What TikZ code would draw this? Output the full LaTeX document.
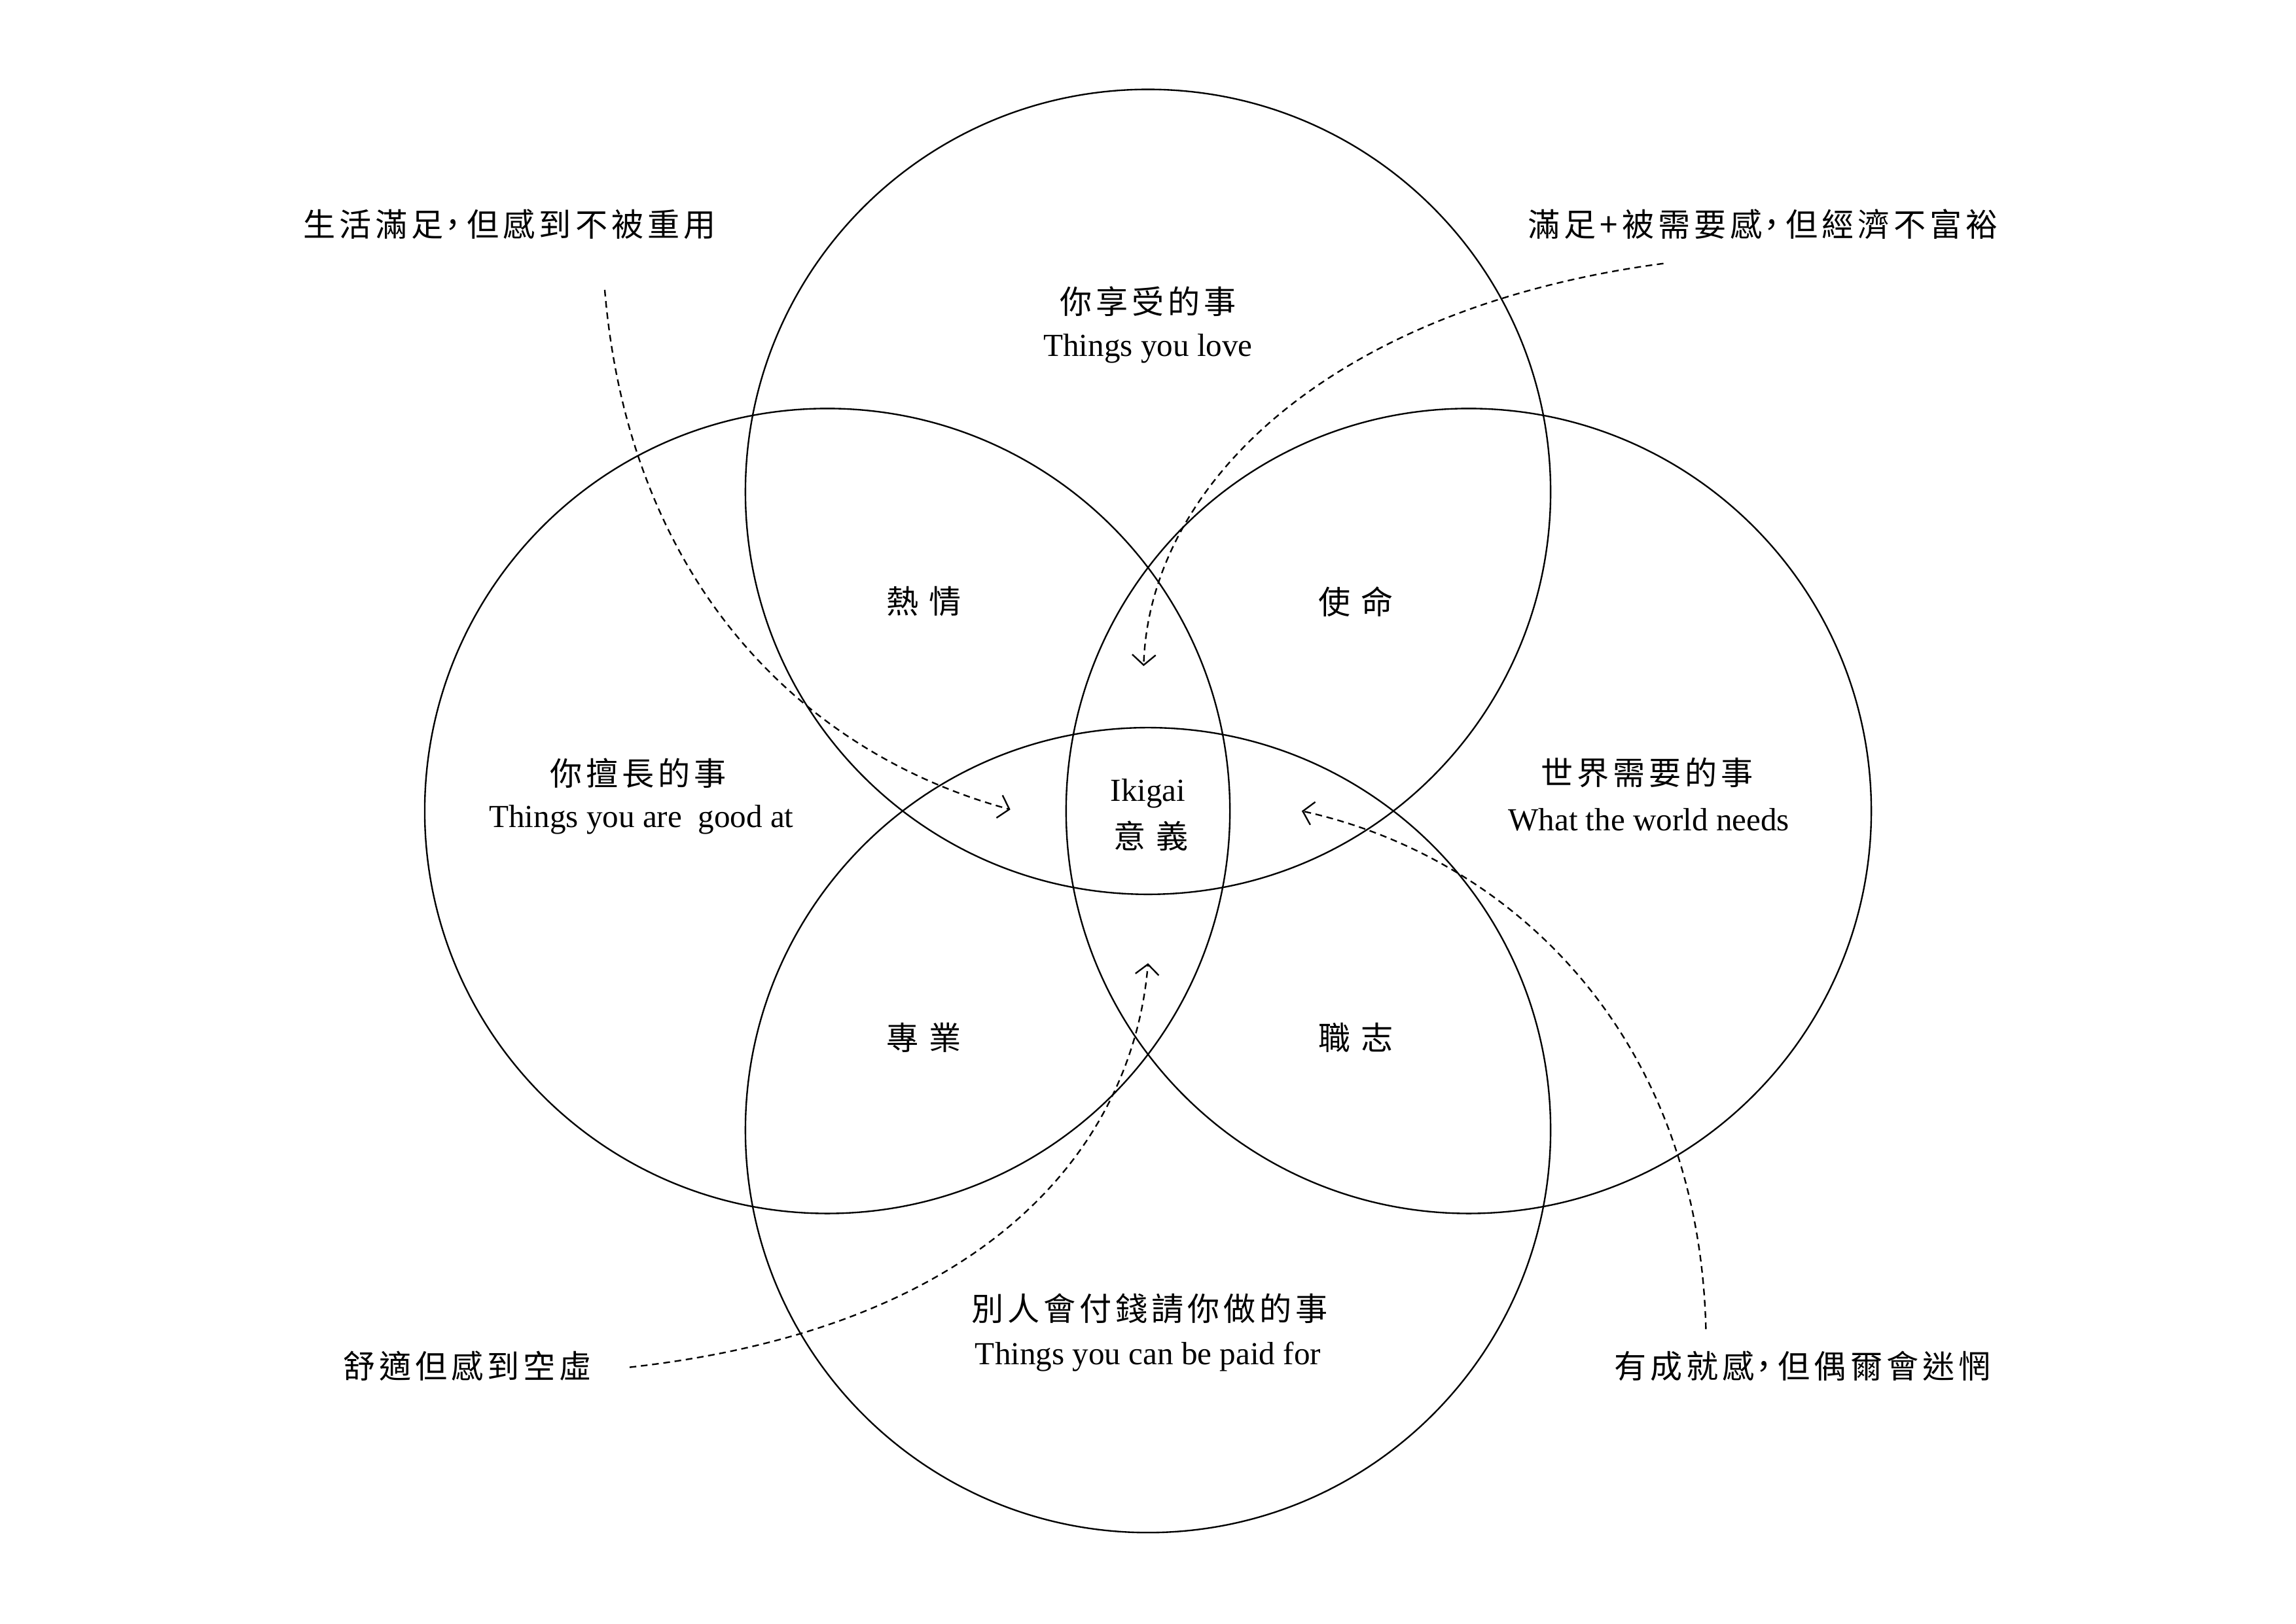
\documentclass[tikz,border=0pt]{standalone}
\usepackage{fontspec}
\setmainfont{Liberation Serif}
\newfontfamily\cjk{Noto Sans CJK TC}[LetterSpace=12]
\newfontfamily\cjkwide{Noto Sans CJK TC}[LetterSpace=32]
\usetikzlibrary{arrows.meta}

% narrower full-width comma
\newcommand{\zhcomma}{\kern-0.21em，\kern-0.06em}

\tikzset{
  ring/.style={circle, draw, line width=0.6pt, minimum size=11cm, inner sep=0pt},
  zh/.style={font=\fontsize{12.5}{15}\cjk, inner sep=0pt},
  zhwide/.style={font=\fontsize{12.5}{15}\cjkwide, inner sep=0pt},
  en/.style={font=\fontsize{12.5}{14}\selectfont, inner sep=0pt},
  hint/.style={line width=0.6pt, dash pattern=on 2.6pt off 1.8pt,
    -{Straight Barb[length=1.4mm,width=3.2mm]}},
}

\begin{document}
\begin{tikzpicture}[x=0.02cm, y=-0.02cm]
    % page frame (1568 x 1109 units)
    \useasboundingbox (0,0) rectangle (1568,1109);

    % four circles of the Ikigai
    \node[ring] (love)  at (784,336) {};
    \node[ring] (good)  at (565,554) {};
    \node[ring] (world) at (1003,554) {};
    \node[ring] (paid)  at (784,772) {};

    % circle titles
    \node[zh] (loveZh)  at (784,206) {你享受的事};
    \node[en] (loveEn)  at (784,238) {Things you love};
    \node[zh] (goodZh)  at (436,528) {你擅長的事};
    \node[en] (goodEn)  at (438,560) {Things you are\ \ good at};
    \node[zh] (worldZh) at (1125,528) {世界需要的事};
    \node[en] (worldEn) at (1126,560) {What the world needs};
    \node[zh] (paidZh)  at (785,894) {別人會付錢請你做的事};
    \node[en] (paidEn)  at (784,927) {Things you can be paid for};

    % overlaps
    \node[zhwide] (passion)    at (631,411) {熱情};
    \node[zhwide] (mission)    at (926,411) {使命};
    \node[zhwide] (profession) at (631,709) {專業};
    \node[zhwide] (vocation)   at (926,709) {職志};
    \node[en] (ikigaiEn) at (784,542) {Ikigai};
    \node[zhwide] (ikigaiZh) at (786,571) {意義};

    % side notes
    \node[zh] (noteA) at (348,153) {生活滿足\zhcomma 但感到不被重用};
    \node[zh] (noteB) at (1204,153) {滿足+被需要感\zhcomma 但經濟不富裕};
    \node[zh] (noteC) at (319,933) {舒適但感到空虛};
    \node[zh] (noteD) at (1231,933) {有成就感\zhcomma 但偶爾會迷惘};

    % dashed hints
    \coordinate (aFrom) at (413,198);
    \coordinate (aTo)   at (690,553);
    \coordinate (bFrom) at (1136,180);
    \coordinate (bTo)   at (781,455);
    \coordinate (cFrom) at (430,934);
    \coordinate (cTo)   at (784,658);
    \coordinate (dFrom) at (1165,908);
    \coordinate (dTo)   at (889,554);
    \draw[hint] (aFrom) .. controls (430,400) and (550,515) .. (aTo);
    \draw[hint] (bFrom) .. controls (910,210) and (785,330) .. (bTo);
    \draw[hint] (cFrom) .. controls (690,905) and (775,770) .. (cTo);
    \draw[hint] (dFrom) .. controls (1160,705) and (1030,585) .. (dTo);

  \end{tikzpicture}
\end{document}
